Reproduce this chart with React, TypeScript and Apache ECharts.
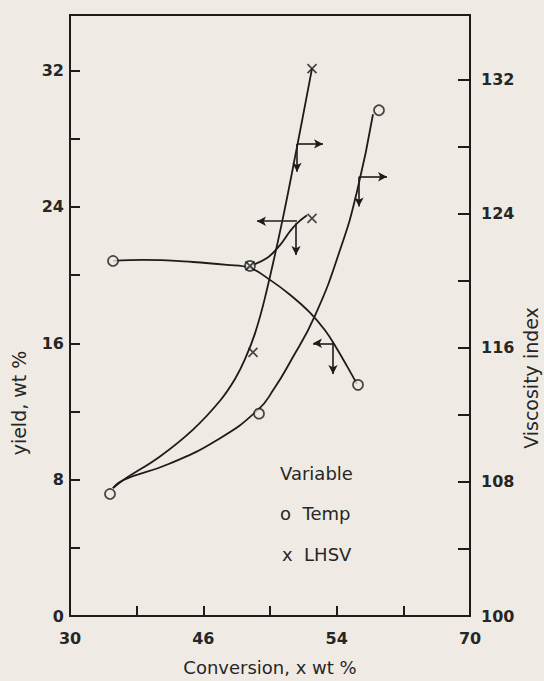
import React, { useEffect, useRef } from 'react';
import * as echarts from 'echarts';

// Axis tick labels
const xTickLabels = ['30', '', '46', '', '54', '', '70'];
const yieldTickLabels = [0, 8, 16, 24, 32];
const viTickLabels = [100, 108, 116, 124, 132];

// Viscosity index curves (right axis): [conversion, VI]
const tempViCurve = [
  [34.3, 107.63], [35.3, 108.1], [39.8, 109.05], [44.8, 110.53], [48.8, 112.3], [50.4, 113.55],
  [52.0, 115.14], [54.5, 117.92], [57.0, 121.83], [58.7, 125.32], [60.3, 129.93],
];
const lhsvViCurve = [
  [34.3, 107.63], [35.3, 108.1], [39.0, 109.52], [42.3, 111.12], [45.0, 112.84], [46.5, 114.14],
  [47.5, 115.32], [48.5, 116.86], [49.5, 118.99], [51.2, 123.48], [52.7, 127.98], [54.2, 132.65],
];
// Yield curves (left axis): [conversion, yield]
const tempYieldCurve = [
  [34.3, 20.83], [37.3, 20.89], [42.3, 20.77], [45.7, 20.6], [48.0, 20.42], [50.0, 19.72],
  [52.0, 18.85], [54.0, 17.8], [55.5, 16.76], [56.6, 15.77], [57.7, 14.66], [58.7, 13.61],
];
const lhsvYieldCurve = [
  [48.0, 20.54], [49.7, 21.0], [51.0, 21.76], [52.0, 22.57], [52.7, 23.04], [53.7, 23.51],
];

// Measured points
const tempViPoints = [[34.0, 107.28], [48.9, 112.07], [60.9, 130.17]];
const lhsvViPoints = [[48.3, 115.73], [54.2, 132.65]];
const tempYieldPoints = [[34.3, 20.83], [48.0, 20.54], [58.8, 13.56]];
const lhsvYieldPoints = [[48.0, 20.54], [54.2, 23.33]];

// Axis-pointing arrows: [from, to]
const lhsvViArrows = [[[52.7, 128.16], [55.3, 128.16]], [[52.7, 128.16], [52.7, 126.5]]];
const tempViArrows = [[[58.9, 126.2], [61.7, 126.2]], [[58.9, 126.2], [58.9, 124.43]]];
const lhsvYieldArrows = [[[52.7, 23.16], [48.7, 23.16]], [[52.6, 23.04], [52.6, 21.18]]];
const tempYieldArrows = [[[56.3, 16.0], [54.3, 16.0]], [[56.3, 16.0], [56.3, 14.2]]];

const BG = '#efebe4';
const INK = '#1c1c1c';
const TXT = '#262626';
const FONT = 'DejaVu Sans';

const arrowMark = (arrows: number[][][]) => ({
  silent: true,
  symbol: ['none', 'arrow'],
  symbolSize: [7, 9],
  label: { show: false },
  lineStyle: { color: INK, width: 1.6, type: 'solid' },
  emphasis: { disabled: true },
  data: arrows.map(([a, b]) => [{ coord: a }, { coord: b }]),
});

const curve = (name: string, data: number[][], yAxisIndex: number, arrows: number[][][], smooth = 0.4) => ({
  name,
  type: 'line',
  xAxisIndex: 0,
  yAxisIndex,
  data,
  smooth,
  showSymbol: false,
  symbol: 'none',
  lineStyle: { color: INK, width: 1.8 },
  z: 2,
  markLine: arrowMark(arrows),
});

const points = (name: string, data: number[][], yAxisIndex: number, kind: 'o' | 'x') => ({
  name,
  type: 'scatter',
  xAxisIndex: 0,
  yAxisIndex,
  data,
  symbol: kind === 'o' ? 'circle' : 'path://M0,0L10,10M10,0L0,10',
  symbolSize: kind === 'o' ? 10 : 9,
  itemStyle: kind === 'o'
    ? { color: BG, borderColor: INK, borderWidth: 1.7 }
    : { color: 'none', borderColor: INK, borderWidth: 1.7 },
  z: 5,
});

export default function App() {
  const ref = useRef<HTMLDivElement>(null);
  useEffect(() => {
    if (!ref.current) return;
    const chart = echarts.init(ref.current, undefined, { renderer: 'svg' });
    const labelStyle = { color: TXT, fontSize: 16, fontFamily: FONT, fontWeight: 'bold' as const };
    const nameStyle = { fill: TXT, fontSize: 19, fontFamily: FONT, align: 'center', verticalAlign: 'middle' };
    const legendStyle = { fill: TXT, fontSize: 18, fontFamily: FONT, align: 'left', verticalAlign: 'middle' };
    chart.setOption({
      animation: false,
      backgroundColor: BG,
      grid: {
        show: true, left: 70, right: 74, top: 15, bottom: 60,
        borderColor: INK, borderWidth: 2, backgroundColor: 'transparent',
      },
      xAxis: [
        { type: 'value', min: 30, max: 70, show: false, position: 'top' },
        {
          type: 'category', data: xTickLabels, boundaryGap: false, position: 'bottom',
          axisLine: { show: true, lineStyle: { color: INK, width: 2 } },
          axisTick: { show: true, inside: true, length: 10, interval: 0, lineStyle: { color: INK, width: 2 } },
          axisLabel: { ...labelStyle, interval: 0, margin: 14 },
          splitLine: { show: false },
          name: 'Conversion, x wt %', nameLocation: 'middle', nameGap: 42,
          nameTextStyle: { color: TXT, fontSize: 18, fontFamily: FONT },
        },
      ],
      yAxis: [
        {
          type: 'value', min: 0, max: 35.26, interval: 4, position: 'left',
          axisLine: { show: true, lineStyle: { color: INK, width: 2 } },
          axisTick: { show: true, inside: true, length: 10, lineStyle: { color: INK, width: 2 } },
          axisLabel: {
            ...labelStyle, margin: 6,
            formatter: (v: number) => (yieldTickLabels.includes(Math.round(v * 100) / 100) ? String(v) : ''),
          },
          splitLine: { show: false },
        },
        {
          type: 'value', min: 100, max: 135.85, interval: 4, position: 'right',
          axisLine: { show: true, lineStyle: { color: INK, width: 2 } },
          axisTick: { show: true, inside: true, length: 12, lineStyle: { color: INK, width: 2 } },
          axisLabel: {
            ...labelStyle, margin: 11,
            formatter: (v: number) => (viTickLabels.includes(Math.round(v * 100) / 100) ? String(v) : ''),
          },
          splitLine: { show: false },
        },
      ],
      series: [
        curve('Temp VI', tempViCurve, 1, tempViArrows, 0.5),
        curve('LHSV VI', lhsvViCurve, 1, lhsvViArrows),
        curve('Temp yield', tempYieldCurve, 0, tempYieldArrows),
        curve('LHSV yield', lhsvYieldCurve, 0, lhsvYieldArrows),
        points('Temp VI points', tempViPoints, 1, 'o'),
        points('LHSV VI points', lhsvViPoints, 1, 'x'),
        points('Temp yield points', tempYieldPoints, 0, 'o'),
        points('LHSV yield points', lhsvYieldPoints, 0, 'x'),
      ],
      graphic: [
        { type: 'text', x: 19, y: 403, rotation: Math.PI / 2, style: { text: 'yield, wt %', ...nameStyle } },
        { type: 'text', x: 531, y: 378, rotation: Math.PI / 2, style: { text: 'Viscosity index', ...nameStyle } },
        { type: 'text', x: 280, y: 473, style: { text: 'Variable', ...legendStyle } },
        { type: 'text', x: 280, y: 513, style: { text: 'o  Temp', ...legendStyle } },
        { type: 'text', x: 282, y: 554, style: { text: 'x  LHSV', ...legendStyle } },
      ],
    });
    return () => chart.dispose();
  }, []);
  return (
    <div
      ref={ref}
      style={{ position: 'fixed', left: 0, top: 0, width: 544, height: 681, background: BG }}
    />
  );
}
